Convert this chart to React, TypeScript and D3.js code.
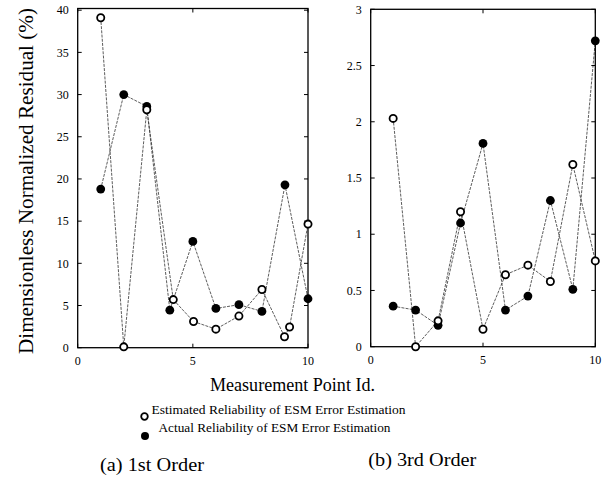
import React from "react";
import * as d3 from "d3";

// Panel (a): 1st order
const estX1 = [1, 2, 3, 4.15, 5.03, 6, 7, 8, 8.98, 9.2, 10];
const estY1 = [39.1, 0.1, 28.2, 5.7, 3.1, 2.2, 3.75, 6.9, 1.3, 2.45, 14.65];
const actX1 = [1, 2, 3, 4, 5, 6, 7, 8, 9, 10];
const actY1 = [18.8, 30, 28.6, 4.45, 12.6, 4.65, 5.1, 4.3, 19.3, 5.8];
const yTicks1 = [0, 5, 10, 15, 20, 25, 30, 35, 40];

// Panel (b): 3rd order
const estX3 = [1, 2, 3, 4, 5, 6, 7, 8, 9, 10];
const estY3 = [2.03, 0.0, 0.23, 1.2, 0.155, 0.64, 0.725, 0.58, 1.62, 0.763];
const actX3 = [1, 2, 3, 4, 5, 6, 7, 8, 9, 10];
const actY3 = [0.36, 0.326, 0.19, 1.1, 1.807, 0.326, 0.45, 1.3, 0.51, 2.72];
const yTicks3 = [0, 0.5, 1, 1.5, 2, 2.5, 3];
const yTickLabels3 = ["0", "0.5", "1", "1.5", "2", "2.5", "3"];

const xTicks = [0, 5, 10];

const FONT = "'Liberation Serif', 'Times New Roman', serif";

type PanelProps = {
  x0: number; x1: number; yTop: number; yBot: number; yMax: number;
  estX: number[]; estY: number[]; actX: number[]; actY: number[];
  yTicks: number[]; yLabels: string[];
};

function Panel(p: PanelProps) {
  const xs = d3.scaleLinear().domain([0, 10]).range([p.x0, p.x1]);
  const ys = d3.scaleLinear().domain([0, p.yMax]).range([p.yBot, p.yTop]);
  const line = d3.line<[number, number]>().x(d => xs(d[0])).y(d => ys(d[1]));
  const est = p.estX.map((x, i) => [x, p.estY[i]] as [number, number]);
  const act = p.actX.map((x, i) => [x, p.actY[i]] as [number, number]);
  const tl = 4;
  return (
    <g>
      <path d={line(act) || ""} fill="none" stroke="#333" strokeWidth={0.8} strokeDasharray="3 1.2" />
      <path d={line(est) || ""} fill="none" stroke="#333" strokeWidth={0.8} strokeDasharray="3 1.2" />
      {p.yTicks.map((t, i) => (
        <g key={"y" + i}>
          <line x1={p.x0} x2={p.x0 + tl} y1={ys(t)} y2={ys(t)} stroke="#000" strokeWidth={1} />
          <line x1={p.x1} x2={p.x1 - tl} y1={ys(t)} y2={ys(t)} stroke="#000" strokeWidth={1} />
          <text x={p.x0 - 9} y={ys(t)} dy="0.35em" textAnchor="end" fontSize={12} fontFamily={FONT}>{p.yLabels[i]}</text>
        </g>
      ))}
      {xTicks.map((t, i) => (
        <g key={"x" + i}>
          <line x1={xs(t)} x2={xs(t)} y1={p.yBot} y2={p.yBot - tl} stroke="#000" strokeWidth={1} />
          <line x1={xs(t)} x2={xs(t)} y1={p.yTop} y2={p.yTop + tl} stroke="#000" strokeWidth={1} />
          <text x={xs(t)} y={p.yBot + 17} textAnchor="middle" fontSize={12} fontFamily={FONT}>{String(t)}</text>
        </g>
      ))}
      <rect x={p.x0} y={p.yTop} width={p.x1 - p.x0} height={p.yBot - p.yTop} fill="none" stroke="#000" strokeWidth={1.3} />
      {act.map((d, i) => (
        <circle key={"a" + i} cx={xs(d[0])} cy={ys(d[1])} r={4.4} fill="#000" />
      ))}
      {est.map((d, i) => (
        <circle key={"e" + i} cx={xs(d[0])} cy={ys(d[1])} r={3.6} fill="#fff" stroke="#000" strokeWidth={1.8} />
      ))}
    </g>
  );
}

export default function App() {
  return (
    <svg width={610} height={478} style={{ display: "block", position: "absolute", left: 0, top: 0 }}>
      <rect x={0} y={0} width={610} height={478} fill="#fff" />
      <Panel x0={77.7} x1={308} yTop={8.5} yBot={347.7} yMax={40.2}
        estX={estX1} estY={estY1} actX={actX1} actY={actY1}
        yTicks={yTicks1} yLabels={yTicks1.map(String)} />
      <Panel x0={370.7} x1={595.3} yTop={9.3} yBot={346.7} yMax={3}
        estX={estX3} estY={estY3} actX={actX3} actY={actY3}
        yTicks={yTicks3} yLabels={yTickLabels3} />
      <text transform="translate(33,181) rotate(-90)" textAnchor="middle" fontSize={21} fontFamily={FONT}
        textLength={346} lengthAdjust="spacingAndGlyphs">Dimensionless Normalized Residual (%)</text>
      <text x={292.5} y={391} textAnchor="middle" fontSize={18} fontFamily={FONT}
        textLength={165} lengthAdjust="spacingAndGlyphs">Measurement Point Id.</text>
      <circle cx={144.5} cy={416.5} r={3.3} fill="#fff" stroke="#000" strokeWidth={1.8} />
      <text x={151.5} y={414} fontSize={13.5} fontFamily={FONT} textLength={254} lengthAdjust="spacingAndGlyphs">Estimated  Reliability of ESM Error Estimation</text>
      <circle cx={145} cy={436} r={4} fill="#000" />
      <text x={158.5} y={432} fontSize={13.5} fontFamily={FONT} textLength={232} lengthAdjust="spacingAndGlyphs">Actual Reliability of ESM Error Estimation</text>
      <text x={100} y={471} fontSize={19} fontFamily={FONT} textLength={104} lengthAdjust="spacingAndGlyphs">(a) 1st Order</text>
      <text x={368.3} y={466} fontSize={19} fontFamily={FONT} textLength={108} lengthAdjust="spacingAndGlyphs">(b) 3rd Order</text>
    </svg>
  );
}
